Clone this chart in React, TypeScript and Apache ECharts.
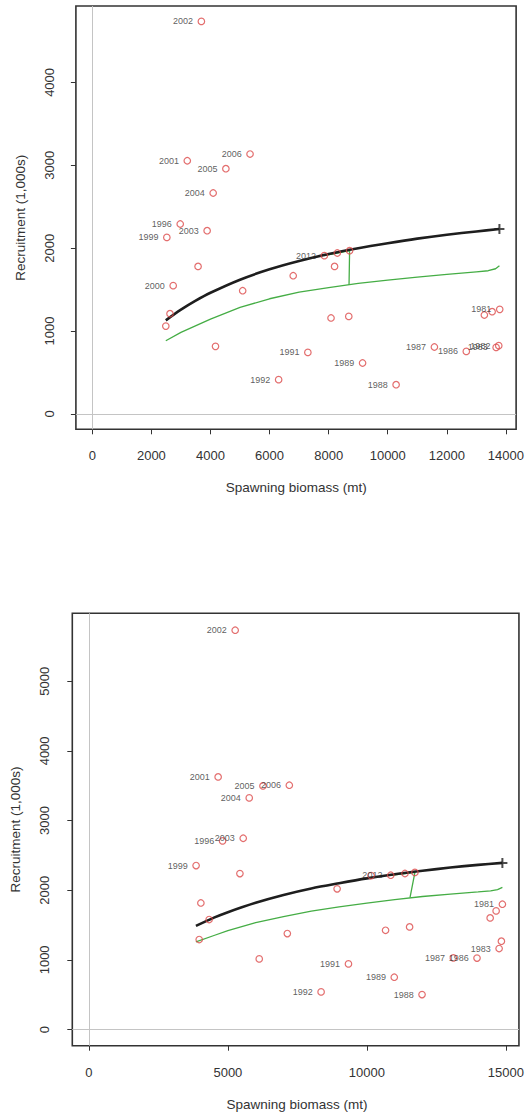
import React, { useEffect, useRef } from "react";
import * as echarts from "echarts";

// ---------- Upper panel ----------
const TOP_LABELS = ["2002", "2001", "2006", "2005", "2004", "1996", "2003", "1999", "", "2000", "", "", "2012", "", "", "", "", "", "", "1991", "1992", "", "", "1989", "1988", "1987", "1986", "1983", "1982", "", "", "1981"];
const TOP_SSB = [3692, 3215, 5339, 4521, 4091, 2976, 3887, 2523, 3580, 2738, 5090, 6800, 7854, 8293, 8709, 8200, 2630, 2488, 4170, 7296, 6307, 8080, 8681, 9148, 10283, 11579, 12659, 13669, 13757, 13270, 13533, 13790];
const TOP_REC = [4736, 3055, 3136, 2959, 2666, 2292, 2211, 2130, 1780, 1548, 1487, 1668, 1910, 1942, 1970, 1780, 1210, 1060, 816, 743, 414, 1158, 1177, 615, 353, 808, 755, 803, 824, 1194, 1234, 1262];
const TOP_BH_X = [2488, 3000, 3500, 4000, 5000, 6000, 7000, 8000, 9000, 10000, 11000, 12000, 13000, 13780];
const TOP_BH_Y = [1129, 1258, 1367, 1462, 1620, 1745, 1845, 1930, 2000, 2060, 2115, 2162, 2202, 2232];
const TOP_GR_X = [2488, 3000, 4000, 5000, 6000, 7000, 8000, 9000, 10000, 11000, 12000, 13000, 13400, 13650, 13780];
const TOP_GR_Y = [884, 985, 1145, 1285, 1390, 1470, 1525, 1575, 1615, 1650, 1683, 1715, 1728, 1752, 1789];
const TOP_TRAJ_X = [7854, 8293, 8709, 8690];
const TOP_TRAJ_Y = [1910, 1942, 1970, 1555];
const TOP_B0 = [13780, 2232];
const TOP_X_TICKS = [0, 2000, 4000, 6000, 8000, 10000, 12000, 14000];
const TOP_Y_TICKS = [0, 1000, 2000, 3000, 4000];

// ---------- Lower panel ----------
const BOT_LABELS = ["2002", "2001", "2005", "2006", "2004", "1996", "2003", "1999", "", "2012", "", "", "", "", "1981", "", "", "", "", "", "", "", "", "", "1991", "1992", "1989", "1988", "1987", "1986", "1983", ""];
const BOT_SSB = [5263, 4650, 6262, 7210, 5768, 4809, 5552, 3857, 5433, 10858, 11369, 11727, 8929, 10150, 14873, 14648, 14433, 4029, 4326, 7138, 10671, 11536, 3969, 6128, 9337, 8353, 10984, 11983, 13110, 13960, 14755, 14837];
const BOT_REC = [5732, 3626, 3497, 3507, 3325, 2708, 2746, 2354, 2239, 2215, 2240, 2255, 2020, 2210, 1799, 1703, 1602, 1817, 1579, 1378, 1425, 1473, 1292, 1014, 942, 540, 751, 502, 1028, 1026, 1163, 1268];
const BOT_BH_X = [3851, 4500, 5000, 6000, 7000, 8000, 9000, 10000, 11000, 12000, 13000, 14000, 14873];
const BOT_BH_Y = [1487, 1606, 1685, 1820, 1932, 2025, 2100, 2170, 2230, 2280, 2325, 2364, 2392];
const BOT_GR_X = [3851, 4500, 5000, 6000, 7000, 8000, 9000, 10000, 11000, 12000, 13000, 14000, 14450, 14700, 14873];
const BOT_GR_Y = [1257, 1350, 1420, 1535, 1622, 1700, 1762, 1815, 1865, 1910, 1945, 1975, 1990, 2008, 2040];
const BOT_TRAJ_X = [10858, 11369, 11727, 11550];
const BOT_TRAJ_Y = [2215, 2240, 2255, 1895];
const BOT_B0 = [14873, 2392];
const BOT_X_TICKS = [0, 5000, 10000, 15000];
const BOT_Y_TICKS = [0, 1000, 2000, 3000, 4000, 5000];

const FONT = "Liberation Sans, Arial, Helvetica, sans-serif";
const INK = "#333333";
const RED = "#dc4a4a";
const GREEN = "#45ad45";
const PLUS = "path://M4,0H6V4H10V6H6V10H4V6H0V4H4Z";

const zip = (xs: number[], ys: number[]) => xs.map((x, i) => [x, ys[i]]);
const plain = (v: number) => String(v);

function panelAxes(idx: number, xr: number[], yr: number[], xt: number[], yt: number[], yMargin: number) {
  const x = {
    type: "value",
    gridIndex: idx,
    min: xr[0],
    max: xr[1],
    axisLine: { show: false, onZero: false },
    axisTick: { show: true, length: 5, lineStyle: { color: INK, width: 1 }, customValues: xt },
    axisLabel: { customValues: xt, formatter: plain, fontSize: 13, color: INK, fontFamily: FONT, margin: 20 },
    splitLine: { show: false },
  };
  const y = {
    type: "value",
    gridIndex: idx,
    min: yr[0],
    max: yr[1],
    axisLine: { show: false, onZero: false },
    axisTick: { show: true, length: 5, lineStyle: { color: INK, width: 1 }, customValues: yt },
    axisLabel: {
      customValues: yt,
      formatter: plain,
      fontSize: 13,
      color: INK,
      fontFamily: FONT,
      rotate: 90,
      align: "center",
      verticalAlign: "middle",
      margin: yMargin,
    },
    splitLine: { show: false },
  };
  return { x, y };
}

function panelSeries(idx: number, labels: string[], ssb: number[], rec: number[], bhx: number[], bhy: number[], grx: number[], gry: number[], tx: number[], ty: number[], b0: number[]) {
  return [
    {
      type: "line",
      xAxisIndex: idx,
      yAxisIndex: idx,
      data: [],
      silent: true,
      markLine: {
        silent: true,
        symbol: ["none", "none"],
        label: { show: false },
        lineStyle: { color: "#c4c4c4", width: 1, type: "solid" },
        data: [{ xAxis: 0 }, { yAxis: 0 }],
      },
      z: 1,
    },
    {
      type: "line",
      xAxisIndex: idx,
      yAxisIndex: idx,
      data: zip(grx, gry),
      showSymbol: false,
      lineStyle: { color: GREEN, width: 1.3 },
      z: 2,
    },
    {
      type: "line",
      xAxisIndex: idx,
      yAxisIndex: idx,
      data: zip(tx, ty),
      showSymbol: false,
      lineStyle: { color: GREEN, width: 1.3 },
      z: 2,
    },
    {
      type: "line",
      xAxisIndex: idx,
      yAxisIndex: idx,
      data: zip(bhx, bhy),
      showSymbol: false,
      smooth: 0.3,
      lineStyle: { color: "#1e1e1e", width: 2.6 },
      z: 3,
    },
    {
      type: "scatter",
      xAxisIndex: idx,
      yAxisIndex: idx,
      data: [b0],
      symbol: PLUS,
      symbolSize: 10,
      itemStyle: { color: "#1e1e1e" },
      z: 4,
    },
    {
      type: "scatter",
      xAxisIndex: idx,
      yAxisIndex: idx,
      data: ssb.map((s, i) => ({ value: [s, rec[i]], name: labels[i] })),
      symbol: "circle",
      symbolSize: 6.5,
      itemStyle: { color: "rgba(255,255,255,0)", borderColor: RED, borderWidth: 1.2 },
      label: {
        show: true,
        position: "left",
        distance: 4.5,
        formatter: (p: any) => p.name,
        fontSize: 9,
        color: INK,
        fontFamily: FONT,
      },
      z: 5,
    },
  ];
}

function axisTitle(x: number, y: number, text: string, rot: number) {
  return {
    type: "text",
    x,
    y,
    rotation: rot,
    silent: true,
    style: {
      text,
      fontSize: 13.5,
      fontFamily: FONT,
      fill: INK,
      align: "center",
      verticalAlign: "middle",
      textAlign: "center",
      textVerticalAlign: "middle",
    },
  };
}

export default function App() {
  const ref = useRef<HTMLDivElement>(null);
  useEffect(() => {
    if (!ref.current) return;
    const chart = echarts.init(ref.current, null, { renderer: "svg" });
    const a0 = panelAxes(0, [-555, 14345], [-185, 4922], TOP_X_TICKS, TOP_Y_TICKS, 26);
    const a1 = panelAxes(1, [-595, 15468], [-232, 5975], BOT_X_TICKS, BOT_Y_TICKS, 27.5);
    chart.setOption({
      animation: false,
      backgroundColor: "#ffffff",
      grid: [
        { left: 75.9, top: 6, width: 440.7, height: 423.3, show: true, borderColor: INK, borderWidth: 1.6, backgroundColor: "rgba(0,0,0,0)" },
        { left: 72.3, top: 613.3, width: 449.3, height: 432.4, show: true, borderColor: INK, borderWidth: 1.6, backgroundColor: "rgba(0,0,0,0)" },
      ],
      xAxis: [a0.x, a1.x],
      yAxis: [a0.y, a1.y],
      series: [
        ...panelSeries(0, TOP_LABELS, TOP_SSB, TOP_REC, TOP_BH_X, TOP_BH_Y, TOP_GR_X, TOP_GR_Y, TOP_TRAJ_X, TOP_TRAJ_Y, TOP_B0),
        ...panelSeries(1, BOT_LABELS, BOT_SSB, BOT_REC, BOT_BH_X, BOT_BH_Y, BOT_GR_X, BOT_GR_Y, BOT_TRAJ_X, BOT_TRAJ_Y, BOT_B0),
      ],
      graphic: [
        axisTitle(296.3, 487, "Spawning biomass (mt)", 0),
        axisTitle(20, 217.7, "Recruitment (1,000s)", Math.PI / 2),
        axisTitle(297, 1104, "Spawning biomass (mt)", 0),
        axisTitle(15, 829.5, "Recruitment (1,000s)", Math.PI / 2),
      ],
    });
    return () => chart.dispose();
  }, []);
  return <div ref={ref} style={{ position: "absolute", left: 0, top: 0, width: 527, height: 1116 }} />;
}
